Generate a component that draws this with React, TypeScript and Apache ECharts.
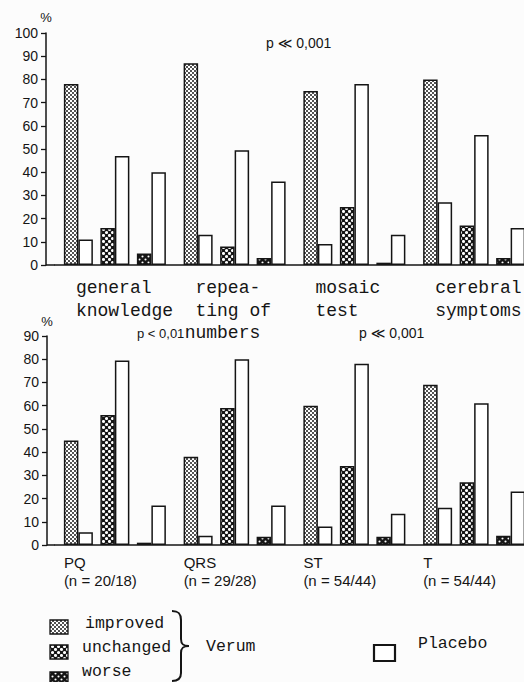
import React, { useEffect, useRef } from "react";
import * as echarts from "echarts";

// ---------- data ----------
const topCategories = ["general\nknowledge", "repea-\nting of\nnumbers", "mosaic\ntest", "cerebral\nsymptoms"];
const topVerumImproved = [78, 87, 75, 80];
const topPlaceboImproved = [11, 13, 9, 27];
const topVerumUnchanged = [16, 8, 25, 17];
const topPlaceboUnchanged = [47, 49.5, 78, 56];
const topVerumWorse = [5, 3, 1, 3];
const topPlaceboWorse = [40, 36, 13, 16];
const topMax = 100;

const bottomCategories = ["PQ\n(n = 20/18)", "QRS\n(n = 29/28)", "ST\n(n = 54/44)", "T\n(n = 54/44)"];
const bottomVerumImproved = [45, 38, 60, 69];
const bottomPlaceboImproved = [5.5, 4, 8, 16];
const bottomVerumUnchanged = [56, 59, 34, 27];
const bottomPlaceboUnchanged = [79.5, 80, 78, 61];
const bottomVerumWorse = [1, 3.5, 3.5, 4];
const bottomPlaceboWorse = [17, 17, 13.5, 23];
const bottomMax = 90;

const tickInterval = 10;
const legendLabels = ["improved", "unchanged", "worse"];
const verumLabel = "Verum";
const placeboLabel = "Placebo";
const pTop = "p ≪ 0,001";
const pBottomLeft = "p < 0,01";
const pBottomRight = "p ≪ 0,001";

// ---------- styles ----------
const INK = "#151515";
const MONO = "'Liberation Mono', 'DejaVu Sans Mono', monospace";
const SANS = "'Liberation Sans', 'DejaVu Sans', Arial, sans-serif";

const BRACE_D =
  "M0 0 C7 0 9 3 9 9 L9 28 C9 33 11 35 17 35 C11 35 9 37 9 42 L9 62 C9 67 7 70 0 70";
let braceRegistered = false;
function registerBrace() {
  if (braceRegistered) return;
  echarts.graphic.registerShape("brace", echarts.graphic.extendPath(BRACE_D, {}) as any);
  braceRegistered = true;
}

function makePattern(kind: string): any {
  const c = document.createElement("canvas");
  const size = kind === "improved" ? 4 : 6;
  c.width = size;
  c.height = size;
  const ctx = c.getContext("2d")!;
  if (kind === "improved") {
    ctx.fillStyle = "#ffffff";
    ctx.fillRect(0, 0, size, size);
    ctx.fillStyle = "#1a1a1a";
    ctx.beginPath();
    ctx.arc(1, 1, 1.0, 0, Math.PI * 2);
    ctx.fill();
    ctx.beginPath();
    ctx.arc(3, 3, 1.0, 0, Math.PI * 2);
    ctx.fill();
  } else {
    const r = kind === "unchanged" ? 1.55 : 1.05;
    ctx.fillStyle = "#151515";
    ctx.fillRect(0, 0, size, size);
    ctx.fillStyle = "#ffffff";
    ctx.beginPath();
    ctx.arc(1.5, 1.5, r, 0, Math.PI * 2);
    ctx.fill();
    ctx.beginPath();
    ctx.arc(4.5, 4.5, r, 0, Math.PI * 2);
    ctx.fill();
  }
  return { image: c, repeat: "repeat" };
}

const BAR_W = 14.5;
const SPACER_W = 7.5;

function buildSeries(idx: number, groups: number[][][], patterns: any[]) {
  const out: any[] = [];
  groups.forEach((pair, g) => {
    out.push({
      type: "bar",
      xAxisIndex: idx,
      yAxisIndex: idx,
      data: pair[0],
      barWidth: BAR_W,
      barGap: "0%",
      itemStyle: { color: patterns[g], borderColor: INK, borderWidth: 1.5 },
      silent: true,
    });
    out.push({
      type: "bar",
      xAxisIndex: idx,
      yAxisIndex: idx,
      data: pair[1],
      barWidth: BAR_W,
      barGap: "0%",
      itemStyle: { color: "#ffffff", borderColor: INK, borderWidth: 1.5 },
      silent: true,
    });
    if (g < groups.length - 1) {
      out.push({
        type: "bar",
        xAxisIndex: idx,
        yAxisIndex: idx,
        data: [],
        barWidth: SPACER_W,
        barGap: "0%",
        silent: true,
      });
    }
  });
  return out;
}

const GRID_LEFT = 55;
const GRID_W = 479;
const TOP_T = 33;
const TOP_H = 232;
const BOT_T = 336;
const BOT_H = 209;

function yAxisCfg(idx: number, max: number, offset: number, nameGap: number) {
  return {
    type: "value",
    gridIndex: idx,
    min: 0,
    max,
    interval: tickInterval,
    offset,
    name: "%",
    nameLocation: "end",
    nameGap,
    nameTextStyle: { color: INK, fontFamily: SANS, fontSize: 13 },
    axisLine: { show: true, lineStyle: { color: INK, width: 1.5 } },
    axisTick: { show: true, length: 5, lineStyle: { color: INK, width: 1.3 } },
    axisLabel: { color: INK, fontFamily: SANS, fontSize: 14, margin: 8 },
    splitLine: { show: false },
  };
}

export default function App() {
  const ref = useRef<HTMLDivElement>(null);
  useEffect(() => {
    if (!ref.current) return;
    registerBrace();
    const chart = echarts.init(ref.current, null, { renderer: "svg" });
    const pImproved = makePattern("improved");
    const pUnchanged = makePattern("unchanged");
    const pWorse = makePattern("worse");
    const patterns = [pImproved, pUnchanged, pWorse];

    const topSeries = buildSeries(
      0,
      [
        [topVerumImproved, topPlaceboImproved],
        [topVerumUnchanged, topPlaceboUnchanged],
        [topVerumWorse, topPlaceboWorse],
      ],
      patterns
    );
    const bottomSeries = buildSeries(
      1,
      [
        [bottomVerumImproved, bottomPlaceboImproved],
        [bottomVerumUnchanged, bottomPlaceboUnchanged],
        [bottomVerumWorse, bottomPlaceboWorse],
      ],
      patterns
    );

    const topBase = TOP_T + TOP_H;
    const botBase = BOT_T + BOT_H;
    const monoText = { fontFamily: MONO, fontSize: 16.5, fill: INK };

    const option: any = {
      animation: false,
      backgroundColor: "#fcfcfc",
      grid: [
        { left: GRID_LEFT, top: TOP_T, width: GRID_W, height: TOP_H },
        { left: GRID_LEFT, top: BOT_T, width: GRID_W, height: BOT_H },
      ],
      xAxis: [
        {
          type: "category",
          gridIndex: 0,
          data: topCategories,
          axisLine: { show: true, lineStyle: { color: INK, width: 1.5 } },
          axisTick: { show: false },
          axisLabel: {
            interval: 0,
            margin: 12,
            formatter: (v: string) =>
              v
                .split("\n")
                .map((line, i, arr) =>
                  arr.length === 3 ? (i === 2 ? `{b|${line}}` : `{b| ${line}}`) : `{a|${line}}`
                )
                .join("\n"),
            rich: {
              a: { fontFamily: MONO, fontSize: 18, lineHeight: 22.5, width: 78, align: "left", color: INK },
              b: { fontFamily: MONO, fontSize: 18, lineHeight: 22.5, width: 100, align: "left", color: INK },
            },
          },
        },
        {
          type: "category",
          gridIndex: 1,
          data: bottomCategories,
          axisLine: { show: true, lineStyle: { color: INK, width: 1.5 } },
          axisTick: { show: false },
          axisLabel: {
            interval: 0,
            margin: 8,
            formatter: (v: string) =>
              v
                .split("\n")
                .map((line) => `{c|${line}}`)
                .join("\n"),
            rich: {
              c: { fontFamily: SANS, fontSize: 15, lineHeight: 18, width: 102, align: "left", color: INK },
            },
          },
        },
      ],
      yAxis: [yAxisCfg(0, topMax, 9, 9), yAxisCfg(1, bottomMax, 8, 8)],
      series: [...topSeries, ...bottomSeries],
      graphic: [
        { type: "line", shape: { x1: GRID_LEFT - 9, y1: topBase, x2: GRID_LEFT, y2: topBase }, style: { stroke: INK, lineWidth: 1.5 } },
        { type: "line", shape: { x1: GRID_LEFT - 8, y1: botBase, x2: GRID_LEFT, y2: botBase }, style: { stroke: INK, lineWidth: 1.5 } },
        { type: "text", x: 266, y: 43, style: { text: pTop, fontFamily: SANS, fontSize: 14, fill: INK, verticalAlign: "middle" } },
        { type: "text", x: 137, y: 333, style: { text: pBottomLeft, fontFamily: SANS, fontSize: 13, fill: INK, verticalAlign: "middle" } },
        { type: "text", x: 359, y: 333, style: { text: pBottomRight, fontFamily: SANS, fontSize: 14, fill: INK, verticalAlign: "middle" } },
        // legend
        { type: "rect", shape: { x: 50, y: 620, width: 18, height: 14 }, style: { fill: pImproved, stroke: INK, lineWidth: 1.3 } },
        { type: "rect", shape: { x: 50, y: 645, width: 18, height: 14 }, style: { fill: pUnchanged, stroke: INK, lineWidth: 1.3 } },
        { type: "rect", shape: { x: 50, y: 672, width: 18, height: 14 }, style: { fill: pWorse, stroke: INK, lineWidth: 1.3 } },
        { type: "text", x: 85, y: 623, style: { ...monoText, text: legendLabels[0], verticalAlign: "middle" } },
        { type: "text", x: 82, y: 647, style: { ...monoText, text: legendLabels[1], verticalAlign: "middle" } },
        { type: "text", x: 82, y: 671, style: { ...monoText, text: legendLabels[2], verticalAlign: "middle" } },
        { type: "brace", x: 172, y: 611, style: { fill: "none", stroke: INK, lineWidth: 2 } },
        { type: "text", x: 206, y: 646, style: { ...monoText, text: verumLabel, verticalAlign: "middle" } },
        { type: "rect", shape: { x: 374, y: 645, width: 21, height: 16 }, style: { fill: "#ffffff", stroke: INK, lineWidth: 2.2 } },
        { type: "text", x: 418, y: 643, style: { ...monoText, text: placeboLabel, verticalAlign: "middle" } },
      ],
    };
    chart.setOption(option);
    return () => chart.dispose();
  }, []);
  return <div ref={ref} style={{ position: "fixed", left: 0, top: 0, width: 545, height: 682 }} />;
}
